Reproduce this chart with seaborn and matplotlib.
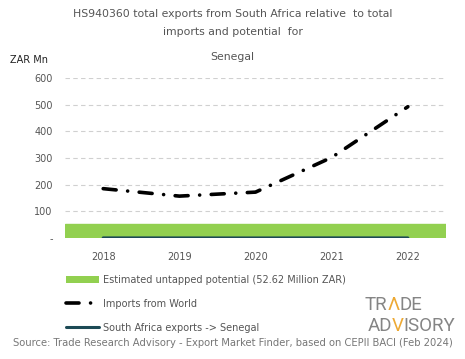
import numpy as np
import pandas as pd
import seaborn as sns
import matplotlib.pyplot as plt
from matplotlib.patches import Patch
from matplotlib.lines import Line2D

# -------------------- Data --------------------
years = ['2018', '2019', '2020', '2021', '2022']
imports_world = [185, 157, 172, 302, 492]
sa_exports = [0.4, 0.3, 0.2, 0.5, 0.3]
untapped_potential = 52.62

title_lines = ['HS940360 total exports from South Africa relative  to total',
               'imports and potential  for',
               'Senegal']
y_ticks = [0, 100, 200, 300, 400, 500, 600]
y_tick_labels = ['-', '100', '200', '300', '400', '500', '600']

GREEN = '#92d050'
DARK = '#1c4a55'
GREY_TXT = '#555555'
LOGO_GREY = '#858585'
LOGO_ORANGE = '#eda934'
DASHES = [3.6, 3.2, 0.01, 3.2]

# -------------------- Plot --------------------
sns.set_theme(style='white')
plt.rcParams['font.family'] = ['DejaVu Sans']

df = pd.DataFrame({'year': years, 'imports': imports_world, 'sa': sa_exports})

fig = plt.figure(figsize=(4.65, 3.59), dpi=100)
ax = fig.add_axes([0.14, 0.337, 0.819, 0.446])

ax.axhspan(0, untapped_potential, color=GREEN, zorder=1)
sns.lineplot(data=df, x='year', y='imports', ax=ax, color='black', lw=2.6,
             zorder=3, sort=False)
imp_line = ax.lines[-1]
imp_line.set_dashes(DASHES)
imp_line.set_dash_capstyle('round')
sns.lineplot(data=df, x='year', y='sa', ax=ax, color=DARK, lw=2.2, zorder=2, sort=False)

ax.set_xlim(-0.5, 4.5)
ax.set_ylim(0, 600)
ax.set_yticks(y_ticks)
ax.set_yticklabels(y_tick_labels)
ax.yaxis.grid(True, ls=(0, (4, 3)), color='#d0d0d0', lw=0.8)
ax.set_axisbelow(True)
for s in ax.spines.values():
    s.set_visible(False)
ax.tick_params(axis='both', length=0, labelsize=7, colors=GREY_TXT, pad=9)
ax.tick_params(axis='x', pad=10)
ax.set_xlabel('')
ax.set_ylabel('')

# title
for txt, yy in zip(title_lines, [0.962, 0.910, 0.840]):
    fig.text(0.5, yy, txt, ha='center', va='center', fontsize=7.8, color=GREY_TXT)
fig.text(0.022, 0.833, 'ZAR Mn', ha='left', va='center', fontsize=7, color='#222222')

# legend
imp_handle = Line2D([], [], color='black', lw=2.6, dashes=DASHES, dash_capstyle='round')
handles = [Patch(facecolor=GREEN, edgecolor='none'),
           imp_handle,
           Line2D([], [], color=DARK, lw=2.2)]
labels = ['Estimated untapped potential (52.62 Million ZAR)',
          'Imports from World',
          'South Africa exports -> Senegal']
fig.legend(handles, labels, loc='upper left', bbox_to_anchor=(0.142, 0.235),
           frameon=False, fontsize=7, labelcolor=GREY_TXT, handlelength=3.4,
           handleheight=0.7, handletextpad=0.4, labelspacing=1.45,
           borderaxespad=0, borderpad=0)

# logo
renderer = fig.canvas.get_renderer()
logo_kw = dict(ha='left', va='baseline', fontsize=13.5, fontweight='normal',
               family=['Roboto', 'DejaVu Sans'])


def logo_word(x0, y0, parts):
    x = x0
    for part, col in parts:
        t = fig.text(x, y0, part, color=col, **logo_kw)
        bb = t.get_window_extent(renderer=renderer)
        x += bb.width / fig.bbox.width


logo_word(0.785, 0.137, [('TR', LOGO_GREY), ('\u039b', LOGO_ORANGE), ('DE', LOGO_GREY)])
logo_word(0.790, 0.077, [('AD', LOGO_GREY), ('V', LOGO_ORANGE), ('ISORY', LOGO_GREY)])

fig.text(0.5, 0.045, 'Source: Trade Research Advisory - Export Market Finder, based on CEPII BACI (Feb 2024)',
         ha='center', va='center', fontsize=7.2, color='#777777')

fig.savefig('out.png', dpi=100)
